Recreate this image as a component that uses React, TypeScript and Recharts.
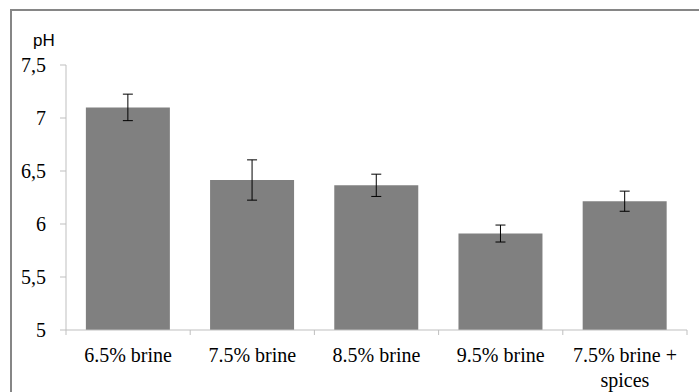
import React from 'react';
import { BarChart, Bar, XAxis, YAxis, ErrorBar, Text } from 'recharts';

const categories = ['6.5% brine', '7.5% brine', '8.5% brine', '9.5% brine', '7.5% brine + spices'];
const phValues = [7.1, 6.415, 6.365, 5.91, 6.215];
const phErrors = [0.125, 0.19, 0.105, 0.08, 0.095];
const yTicks = [5, 5.5, 6, 6.5, 7, 7.5];

const data = categories.map((name, i) => ({ name, ph: phValues[i], err: phErrors[i] }));

const AXIS = '#bfbfbf';
const SERIF = '"Liberation Serif", "Times New Roman", serif';

// category label centred in its band, tick marks drawn on the band edges
function CategoryTick(props: any) {
  const { x, y, payload, index, visibleTicksCount, width } = props;
  const half = payload.offset || width / visibleTicksCount / 2;
  const last = index === visibleTicksCount - 1;
  return (
    <g>
      <line x1={x - half} y1={y} x2={x - half} y2={y + 5} stroke={AXIS} />
      {last && <line x1={x + half} y1={y} x2={x + half} y2={y + 5} stroke={AXIS} />}
      <Text
        x={x}
        y={y + 18}
        width={118}
        textAnchor="middle"
        verticalAnchor="start"
        lineHeight="25px"
        style={{ fontFamily: SERIF, fontSize: 20, fill: '#000' }}
      >
        {payload.value}
      </Text>
    </g>
  );
}

export default function App() {
  return (
    <div style={{ position: 'absolute', left: 0, top: 0, width: 699, height: 392, overflow: 'hidden', background: '#fff' }}>
      {/* frame: only top and left edges show inside the crop */}
      <div
        style={{
          position: 'absolute',
          left: 10,
          top: 9,
          width: 689,
          height: 383,
          borderTop: '2px solid #868686',
          borderLeft: '2px solid #868686',
          boxSizing: 'border-box',
        }}
      />
      <div
        style={{
          position: 'absolute',
          left: 33,
          top: 31,
          fontFamily: '"Liberation Sans", Arial, sans-serif',
          fontSize: 17,
          color: '#000',
        }}
      >
        pH
      </div>
      <div style={{ position: 'absolute', left: 0, top: 0 }}>
        <BarChart
          width={699}
          height={392}
          data={data}
          margin={{ top: 65, right: 12, bottom: 0, left: 0 }}
          barCategoryGap="16%"
        >
          <XAxis
            dataKey="name"
            height={62}
            stroke={AXIS}
            tickLine={false}
            tickSize={0}
            tickMargin={0}
            interval={0}
            tick={<CategoryTick />}
          />
          <YAxis
            width={66}
            domain={[5, 7.5]}
            ticks={yTicks}
            stroke={AXIS}
            tickSize={6}
            tickMargin={14}
            tickFormatter={(v: number) => String(v).replace('.', ',')}
            tick={{ fill: '#000', fontSize: 20, fontFamily: SERIF }}
          />
          <Bar dataKey="ph" fill="#808080" isAnimationActive={false}>
            <ErrorBar dataKey="err" width={5} stroke="#000" strokeWidth={1} />
          </Bar>
        </BarChart>
      </div>
    </div>
  );
}
